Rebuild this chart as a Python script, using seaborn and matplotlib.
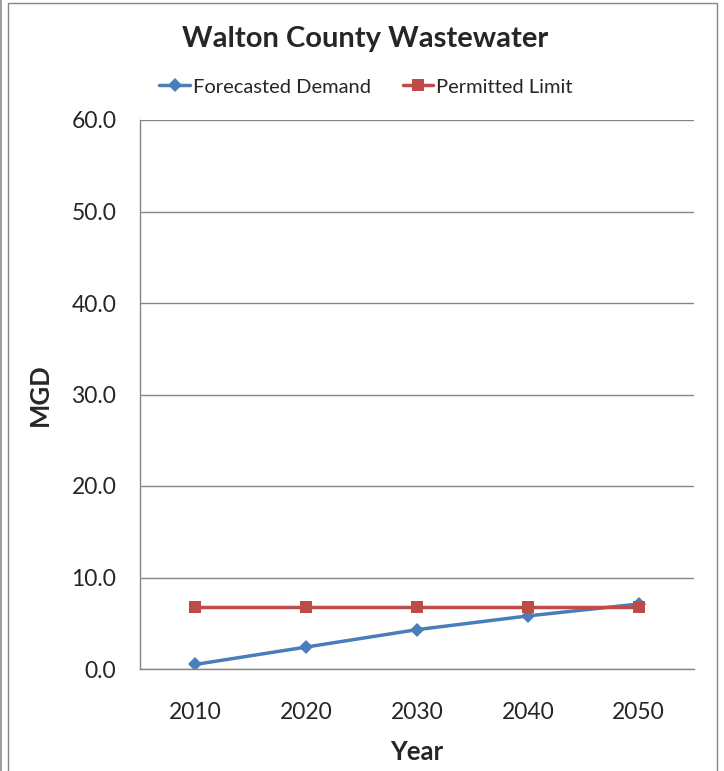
import numpy as np
import pandas as pd
import matplotlib
matplotlib.use('Agg')
import matplotlib.pyplot as plt
from matplotlib.patches import Rectangle
import seaborn as sns

# chart values
years = ['2010', '2020', '2030', '2040', '2050']
forecasted_demand = [0.5, 2.4, 4.3, 5.8, 7.1]
permitted_limit = [6.8, 6.8, 6.8, 6.8, 6.8]
y_ticks = [0, 10, 20, 30, 40, 50, 60]

sns.set_style('white')
plt.rcParams['font.family'] = ['Lato', 'DejaVu Sans']

df = pd.DataFrame({'Year': years,
                   'Forecasted Demand': forecasted_demand,
                   'Permitted Limit': permitted_limit})

fig = plt.figure(figsize=(7.24, 7.71), dpi=100)
ax = fig.add_axes([140 / 724, 1 - 669 / 771, (694 - 140) / 724, (669 - 120) / 771])

# outer chart frame (bottom edge runs off the picture)
fig.patches.append(Rectangle((8 / 724, -0.01), 709 / 724, 1.01 - 3 / 771, transform=fig.transFigure,
                             fill=False, edgecolor='#868686', linewidth=1))
fig.patches.append(Rectangle((0, -0.01), 2 / 724, 1.02, transform=fig.transFigure,
                             fill=True, facecolor='#A0A0A0', edgecolor='none'))

sns.lineplot(data=df, x='Year', y='Forecasted Demand', ax=ax, color='#4A7EBB',
             linewidth=2.5, marker='D', markersize=7, markeredgewidth=0,
             label='Forecasted Demand')
sns.lineplot(data=df, x='Year', y='Permitted Limit', ax=ax, color='#BE4B48',
             linewidth=2.5, marker='s', markersize=9, markeredgewidth=0,
             label='Permitted Limit')

ax.set_ylim(0, 60)
ax.set_yticks(y_ticks)
ax.set_yticklabels(['%.1f' % v for v in y_ticks])
ax.set_xlim(-0.5, len(years) - 0.5)

# gridlines in Excel style
ax.yaxis.grid(True, color='#868686', linewidth=1)
ax.set_axisbelow(True)
for side in ['top', 'right']:
    ax.spines[side].set_visible(False)
for side in ['left', 'bottom']:
    ax.spines[side].set_color('#868686')
    ax.spines[side].set_linewidth(1)

# ticks between categories
ax.set_xticks(np.arange(-0.5, len(years), 1.0), minor=True)
ax.tick_params(axis='x', which='major', length=0, pad=24, labelsize=16.5)
ax.tick_params(axis='x', which='minor', length=6, color='#868686', width=1, direction='out')
ax.tick_params(axis='y', length=5, color='#868686', width=1, direction='out', pad=12, labelsize=16.5)

ax.set_xlabel('Year', fontsize=18.5, fontweight='bold', labelpad=12)
ax.set_ylabel('MGD', fontsize=18.5, fontweight='bold', labelpad=14)

fig.text(365 / 724, 1 - 39 / 771, 'Walton County Wastewater', ha='center', va='center',
         fontsize=21, fontweight='bold')

ax.legend(loc='center', bbox_to_anchor=(366 / 724, 1 - 87 / 771), bbox_transform=fig.transFigure,
          ncol=2, frameon=False, fontsize=14.5, handlelength=1.5, handletextpad=0.15,
          columnspacing=1.6)

fig.savefig('out.png', dpi=100)
plt.close()
